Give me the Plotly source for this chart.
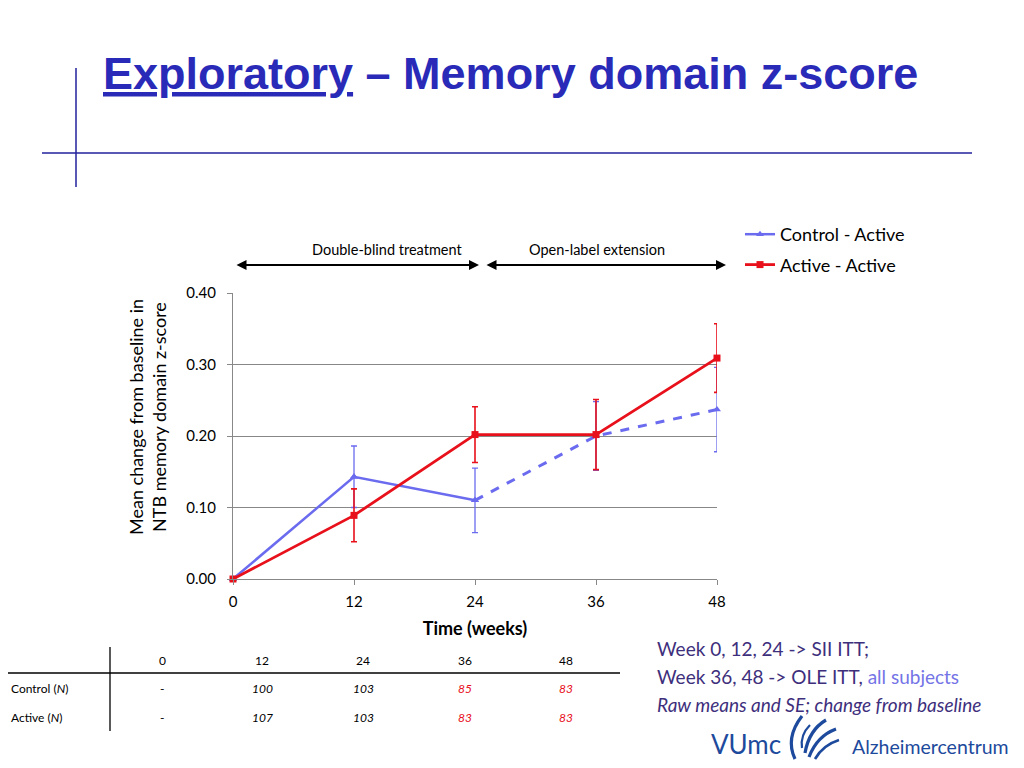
import plotly.graph_objects as go

# ---------------- data ----------------
weeks = [0, 12, 24, 36, 48]
control_mean = [0.0, 0.143, 0.110, 0.200, 0.237]
control_se = [0.0, 0.043, 0.045, 0.048, 0.059]
active_mean = [0.0, 0.089, 0.202, 0.202, 0.309]
active_se = [0.0, 0.037, 0.039, 0.049, 0.048]
y_ticks = [0.0, 0.1, 0.2, 0.3, 0.4]

table_cols = ["0", "12", "24", "36", "48"]
control_n = ["-", "100", "103", "85", "83"]
active_n = ["-", "107", "103", "83", "83"]
n_red = [False, False, False, True, True]

BLUE = "#6b6bef"
RED = "#e8101a"
TITLE_BLUE = "#2a2ab8"
BODY = "Lato, 'Open Sans', 'DejaVu Sans', sans-serif"

# page body has an 8px margin: the figure is sized to fit the 1024x768 window
OFF = 8
W, H = 1024 - 2 * OFF, 768 - 2 * OFF
def px(x):
    return (x - OFF) / W
def py(y):
    return 1 - (y - OFF) / H

def label(text, x, y, size, color="black", xanchor="center", yanchor="middle", **kw):
    return dict(text=text, xref="paper", yref="paper", x=px(x), y=py(y),
                xanchor=xanchor, yanchor=yanchor, showarrow=False,
                font=dict(family=BODY, size=size, color=color), **kw)

fig = go.Figure()

# Control - Active: error bars + markers on all points
fig.add_trace(go.Scatter(
    x=weeks, y=control_mean, mode="markers",
    marker=dict(symbol="triangle-up", size=7, color=BLUE),
    error_y=dict(type="data", array=control_se, color=BLUE, thickness=1.3, width=3),
    showlegend=False, hoverinfo="skip", cliponaxis=False))
# solid part (double-blind)
fig.add_trace(go.Scatter(
    x=weeks[:3], y=control_mean[:3], mode="lines+markers", name="Control - Active",
    line=dict(color=BLUE, width=2.5),
    marker=dict(symbol="triangle-up", size=7, color=BLUE),
    legendgroup="c", cliponaxis=False))
# dashed part (open-label)
fig.add_trace(go.Scatter(
    x=weeks[2:], y=control_mean[2:], mode="lines",
    line=dict(color=BLUE, width=3, dash="dash"),
    showlegend=False, legendgroup="c", cliponaxis=False))
# Active - Active
fig.add_trace(go.Scatter(
    x=weeks, y=active_mean, mode="lines+markers", name="Active - Active",
    line=dict(color=RED, width=2.8),
    marker=dict(symbol="square", size=7, color=RED),
    error_y=dict(type="data", array=active_se, color=RED, thickness=1.6, width=3),
    legendgroup="a", cliponaxis=False))

shapes = []
annotations = []

# title decoration lines
shapes.append(dict(type="line", xref="paper", yref="paper", x0=px(76), x1=px(76),
                   y0=py(68), y1=py(187), line=dict(color="#22229c", width=1.5)))
shapes.append(dict(type="line", xref="paper", yref="paper", x0=px(42), x1=px(972),
                   y0=py(153), y1=py(153), line=dict(color="#22229c", width=1.5)))

# title
annotations.append(dict(
    text="<u>Exploratory</u> – Memory domain z-score",
    xref="paper", yref="paper", x=px(101), y=py(74), xanchor="left", yanchor="middle",
    showarrow=False,
    font=dict(family="'Liberation Sans Narrow', 'Arial Narrow', 'Liberation Sans', Arial, sans-serif",
              size=45, color=TITLE_BLUE, weight="bold")))

# period arrows
for x0, x1 in [(235, 479), (485, 726)]:
    annotations.append(dict(xref="paper", yref="paper", x=px(x1), y=py(265),
                            ax=x0 - x1, ay=0, axref="pixel", ayref="pixel",
                            showarrow=True, arrowhead=2, arrowsize=1, arrowwidth=2,
                            arrowside="end+start", arrowcolor="black", text=""))
annotations.append(label("Double-blind treatment", 387, 249, 14.5))
annotations.append(label("Open-label extension", 597, 249, 14.5))

# y-axis title (two lines, rotated)
annotations.append(label("Mean change from baseline in<br>NTB memory domain z-score",
                         147, 417, 18, textangle=-90))

# table
table_x = [162, 262, 363, 465, 566]
TF = 12
for i, c in enumerate(table_cols):
    annotations.append(label(c, table_x[i], 660, TF))
    for row_y, vals in [(688, control_n), (717, active_n)]:
        v = vals[i]
        txt = v if v == "-" else f"<i>{v}</i>"
        annotations.append(label(txt, table_x[i], row_y, TF, RED if n_red[i] else "black"))
annotations.append(label("Control (<i>N</i>)", 9, 688, TF, xanchor="left"))
annotations.append(label("Active (<i>N</i>)", 9, 717, TF, xanchor="left"))
shapes.append(dict(type="line", xref="paper", yref="paper", x0=px(0), x1=px(620),
                   y0=py(673), y1=py(673), line=dict(color="black", width=1.3)))
shapes.append(dict(type="line", xref="paper", yref="paper", x0=px(110), x1=px(110),
                   y0=py(647), y1=py(731), line=dict(color="black", width=1.3)))

# notes
NOTE = "#3e2f7c"
notes = [
    (648, f"<span style='color:{NOTE}'>Week 0, 12, 24 -&gt; SII ITT;</span>"),
    (676, f"<span style='color:{NOTE}'>Week 36, 48 -&gt; OLE ITT, </span><span style='color:#7474e6'>all subjects</span>"),
    (704, f"<i><span style='color:{NOTE}'>Raw means and SE; change from baseline</span></i>"),
]
for yy, t in notes:
    annotations.append(label(t, 655, yy, 19, NOTE, xanchor="left"))

# logo
LOGO = "#1d4a9c"
annotations.append(label("VUmc", 709, 744, 26, LOGO, xanchor="left"))
annotations.append(label("Alzheimercentrum", 850, 746, 19.5, LOGO, xanchor="left"))
def path(pts):
    s = "M %f %f" % (px(pts[0][0]), py(pts[0][1]))
    s += " Q %f %f %f %f" % (px(pts[1][0]), py(pts[1][1]), px(pts[2][0]), py(pts[2][1]))
    return s
for pts, w in [
    ([(802, 716), (785, 738), (795, 759)], 3.2),
    ([(810, 725), (800, 735), (802, 748)], 2.2),
    ([(826, 720), (809, 730), (805, 753)], 3.2),
    ([(836, 729), (817, 736), (809, 757)], 3.2),
    ([(839, 740), (823, 745), (815, 759)], 2.6),
]:
    shapes.append(dict(type="path", xref="paper", yref="paper", path=path(pts),
                       line=dict(color=LOGO, width=w)))

fig.update_layout(
    width=W, height=H,
    margin=dict(l=0, r=0, t=0, b=0, pad=0, autoexpand=False),
    paper_bgcolor="white", plot_bgcolor="white",
    font=dict(family=BODY, color="black"),
    shapes=shapes, annotations=annotations,
    legend=dict(x=px(740), y=py(216), xanchor="left", yanchor="top",
                font=dict(family=BODY, size=18, color="black"),
                tracegroupgap=4, itemwidth=30, bgcolor="rgba(0,0,0,0)"),
    xaxis=dict(domain=[px(233), px(717)], range=[0, 48], tickvals=weeks,
               showgrid=False, zeroline=False, showline=True, linecolor="#888",
               ticks="outside", tickcolor="#888", ticklen=5, ticklabelstandoff=4,
               tickfont=dict(size=15), automargin=False,
               title=dict(text="<b>Time (weeks)</b>", font=dict(size=18), standoff=13)),
    yaxis=dict(domain=[py(579), py(293)], range=[0, 0.4], tickvals=y_ticks, tickformat=".2f",
               showgrid=True, gridcolor="#888", gridwidth=1, zeroline=False,
               showline=True, linecolor="#888", ticks="outside", tickcolor="#888", ticklen=5,
               ticklabelstandoff=8, tickfont=dict(size=15), automargin=False),
)

fig.write_html("out.html")
